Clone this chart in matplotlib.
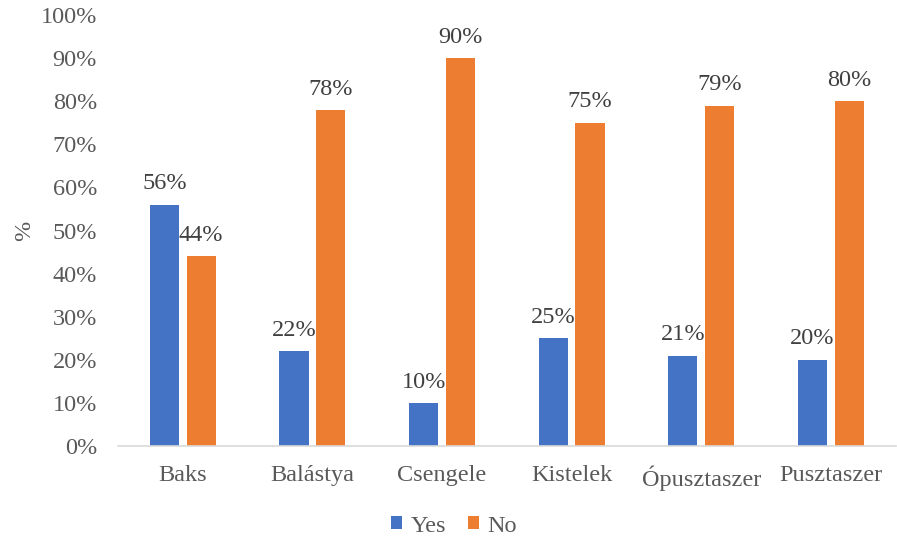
import numpy as np
import matplotlib.pyplot as plt

plt.rcParams['font.family'] = ['Liberation Serif', 'DejaVu Serif']

categories = ['Baks', 'Balástya', 'Csengele', 'Kistelek', 'Ópusztaszer', 'Pusztaszer']
yes_vals = [56, 22, 10, 25, 21, 20]
no_vals = [44, 78, 90, 75, 79, 80]

blue = '#4472C4'
orange = '#ED7D31'
fs = 17.5

fig = plt.figure(figsize=(8.97, 5.38), dpi=100)
ax = fig.add_axes([0.1315, 0.171, 0.867, 0.801])

x = np.arange(len(categories))
w = 0.225
off = 0.142
b1 = ax.bar(x - off, yes_vals, w, color=blue, label='Yes')
b2 = ax.bar(x + off, no_vals, w, color=orange, label='No')

for bars, vals in ((b1, yes_vals), (b2, no_vals)):
    for b, v in zip(bars, vals):
        ax.text(b.get_x() + b.get_width() / 2, v + 2.4, f'{v}%',
                ha='center', va='bottom', fontsize=fs, color='#404040')

ax.set_xlim(-0.5, len(categories) - 0.5)
ax.set_ylim(0, 100)
ax.set_yticks(range(0, 101, 10))
ax.set_yticklabels([f'{t}%' for t in range(0, 101, 10)], fontsize=fs)
ax.set_xticks(x)
ax.set_xticklabels(categories, fontsize=fs)
ax.tick_params(axis='both', length=0, colors='#595959')
ax.tick_params(axis='x', pad=14)
ax.tick_params(axis='y', pad=15)
for s in ('top', 'right', 'left'):
    ax.spines[s].set_visible(False)
ax.spines['bottom'].set_color('#d9d9d9')
ax.spines['bottom'].set_linewidth(1.2)
ax.set_ylabel('%', fontsize=fs, labelpad=4, color='#595959')

leg = fig.legend(loc='lower center', ncol=2, frameon=False, fontsize=fs,
                 bbox_to_anchor=(0.506, -0.038), handlelength=0.45, handleheight=0.45,
                 handletextpad=0.35, columnspacing=0.9)
for t in leg.get_texts():
    t.set_color('#595959')

fig.savefig('out.png', dpi=100)
